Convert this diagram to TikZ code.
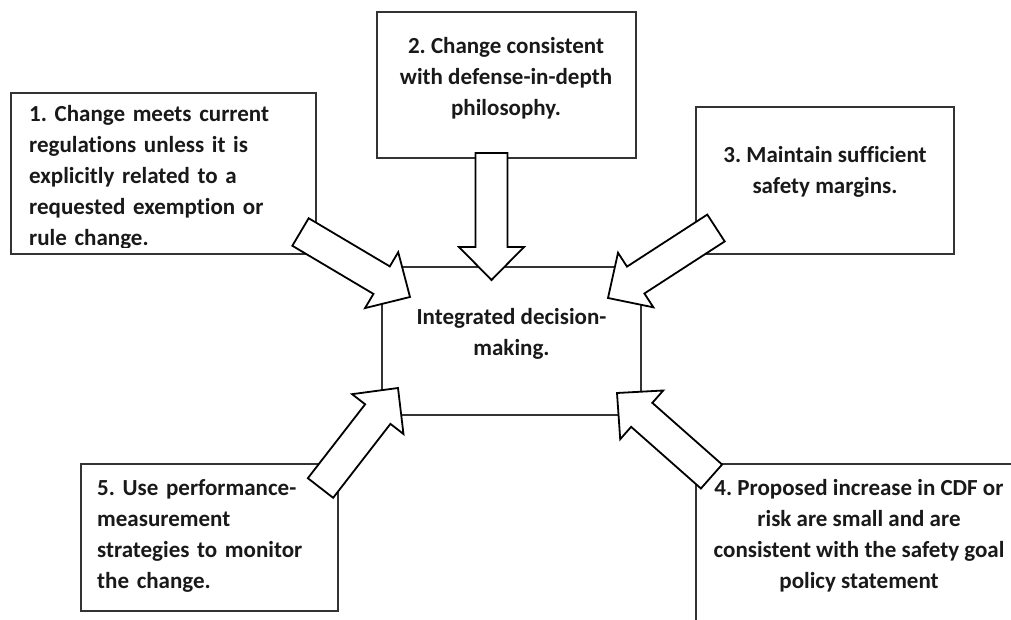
\documentclass[tikz,border=0pt]{standalone}
\usepackage{fontspec}
\setmainfont{Carlito}[Ligatures=NoCommon]
\usetikzlibrary{calc}
\frenchspacing
\tikzset{
  boxst/.style={draw=black!80, line width=1.6bp, fill=white, rectangle, inner sep=0pt},
  txt/.style={inner sep=0pt, font=\fontsize{23bp}{31bp}\selectfont\bfseries, text=black!90},
  blockarr/.style={draw=black, line width=1.8bp, fill=white, line join=miter},
}
\newcommand\blockarrow[2]{%
  \coordinate (#1hb) at ($(#2)!33bp!(#1)$);
  \draw[blockarr] ($(#1)!16bp!90:(#2)$) -- ($(#1hb)!16bp!90:(#2)$) -- ($(#1hb)!32.5bp!90:(#2)$) -- (#2) -- ($(#1hb)!32.5bp!-90:(#2)$) -- ($(#1hb)!16bp!-90:(#2)$) -- ($(#1)!16bp!-90:(#2)$) -- cycle;}
\begin{document}
\begin{tikzpicture}[x=1bp, y=-1bp]
\useasboundingbox (0,0) rectangle (1011,620);
\clip (0,0) rectangle (1011,620);
% boxes
\node[boxst, minimum width=305bp, minimum height=161bp] (b1) at (163.5,173.5) {};
\node[boxst, minimum width=259bp, minimum height=146bp] (b2) at (506.5,85) {};
\node[boxst, minimum width=258bp, minimum height=147bp] (b3) at (825,180.5) {};
\node[boxst, minimum width=259bp, minimum height=148bp] (bc) at (511.5,341) {};
\node[boxst, minimum width=326bp, minimum height=200bp] (b4) at (859,564) {};
\node[boxst, minimum width=257bp, minimum height=147bp] (b5) at (209.5,537.5) {};
% texts
\begin{scope}
\clip (11,93) rectangle (316,247.5);
\node[txt, align=left, text width=290bp, anchor=west] (t1) at (29,177.5) {1. Change meets current\\regulations unless it is\\explicitly related to a\\requested exemption or\\rule change.};
\end{scope}
\node[txt, align=center] (t2) at (506,78) {2. Change consistent\\with defense-in-depth\\philosophy.};
\node[txt, align=center] (t3) at (825,172) {3. Maintain sufficient\\safety margins.};
\node[txt, align=center] (tc) at (511.5,334) {Integrated decision-\\making.};
\node[txt, align=center] (t4) at (859,535.5) {4. Proposed increase in CDF or\\risk are small and are\\consistent with the safety goal\\policy statement};
\node[txt, align=left, text width=240bp, anchor=west] (t5) at (97,535.5) {5. Use performance-\\measurement\\strategies to monitor\\the change.};
% arrow end points
\coordinate (a1) at (300.5,232); \coordinate (p1) at (410,297);
\coordinate (a2) at (491.5,153); \coordinate (p2) at (491.5,280);
\coordinate (a3) at (716,228);   \coordinate (p3) at (608,298);
\coordinate (a4) at (711.5,476.5); \coordinate (p4) at (617,393);
\coordinate (a5) at (320.5,488); \coordinate (p5) at (398,388);
\blockarrow{a1}{p1}
\blockarrow{a2}{p2}
\blockarrow{a3}{p3}
\blockarrow{a4}{p4}
\blockarrow{a5}{p5}
\end{tikzpicture}
\end{document}
